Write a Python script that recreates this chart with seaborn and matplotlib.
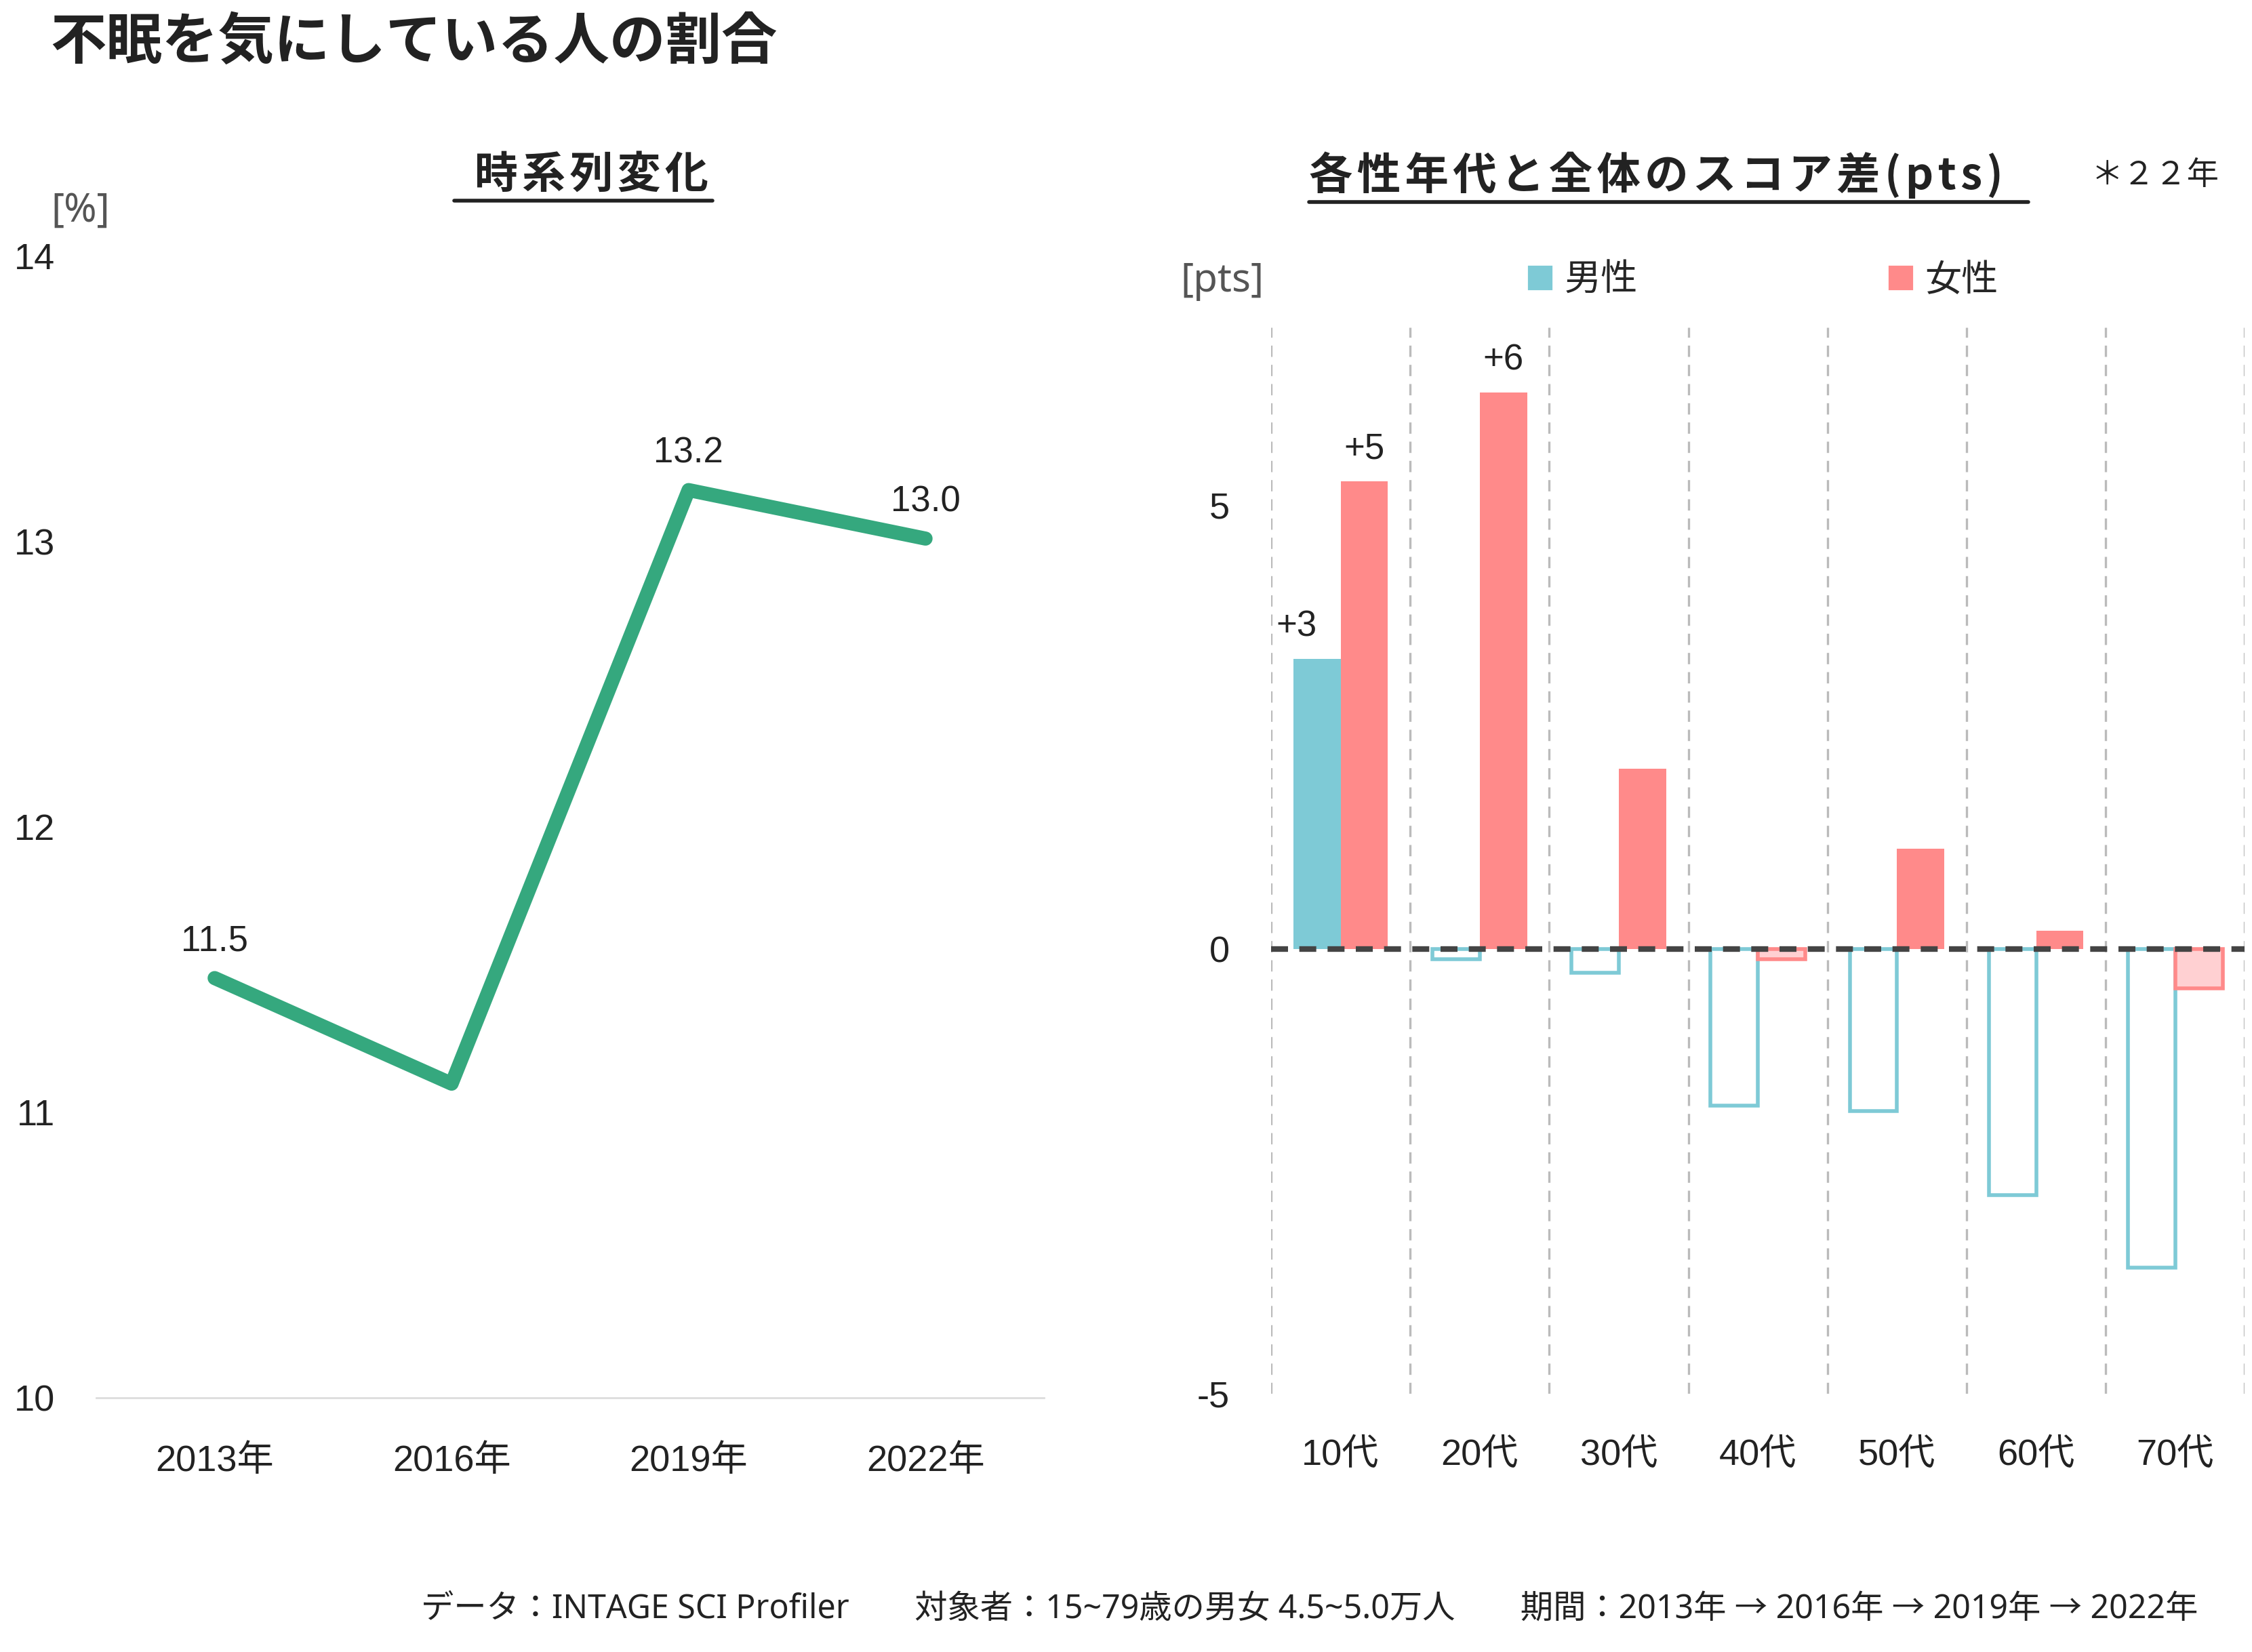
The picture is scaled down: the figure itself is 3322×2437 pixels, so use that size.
import pandas as pd
import matplotlib.pyplot as plt
import seaborn as sns
from matplotlib.patches import Patch
from matplotlib.lines import Line2D

# data
years = ["2013年", "2016年", "2019年", "2022年"]
rate = [11.47, 11.1, 13.18, 13.01]
rate_labels = ["11.5", "", "13.2", "13.0"]

ages = ["10代", "20代", "30代", "40代", "50代", "60代", "70代"]
sexes = ["男性", "女性"]
male_diff = [3.27, -0.11, -0.26, -1.76, -1.82, -2.77, -3.58]
female_diff = [5.27, 6.27, 2.03, -0.11, 1.13, 0.21, -0.44]

GREEN = "#35A87E"
CYAN = "#7ECAD6"
SALMON = "#FF8A8A"
PINK = "#FFD0D2"
TXT = "#222222"
JP = ["Noto Sans CJK JP", "DejaVu Sans"]
LAT = ["Noto Sans", "Noto Sans CJK JP"]

sns.set_theme(style="white")
plt.rcParams["font.family"] = ["Liberation Sans", "Noto Sans CJK JP", "DejaVu Sans"]
plt.rcParams["axes.unicode_minus"] = False

fig = plt.figure(figsize=(16.61, 12.185), dpi=200)
ax1 = fig.add_axes([0.0427, 0.154, 0.4209, 0.691])
ax2 = fig.add_axes([0.5644, 0.1565, 0.4324, 0.6452])

# 1. time series
df_rate = pd.DataFrame({"year": years, "rate": rate})
sns.lineplot(data=df_rate, x="year", y="rate", color=GREEN, lw=7.5, sort=False, ax=ax1,
             solid_capstyle="round", solid_joinstyle="round")
for i, (v, t) in enumerate(zip(rate, rate_labels)):
    if t:
        ax1.annotate(t, (i, v), xytext=(0, 19.5), textcoords="offset points",
                     ha="center", va="center", fontsize=19, color=TXT)
ax1.set_xlim(-0.5, 3.5)
ax1.set_ylim(10, 14)
ax1.set_yticks([10, 11, 12, 13, 14])
ax1.set_xlabel("")
ax1.set_ylabel("")
for s in ["top", "right", "left"]:
    ax1.spines[s].set_visible(False)
ax1.spines["bottom"].set_color("#DDDDDD")
ax1.spines["bottom"].set_linewidth(1)
ax1.tick_params(axis="both", length=0, labelsize=19.5, colors=TXT)
ax1.tick_params(axis="y", pad=22)
ax1.tick_params(axis="x", pad=25)

# 2. gap by sex and age
df_diff = pd.DataFrame({
    "age": ages * 2,
    "sex": [sexes[0]] * len(ages) + [sexes[1]] * len(ages),
    "diff": male_diff + female_diff,
})
sns.barplot(data=df_diff, x="age", y="diff", hue="sex", palette=[CYAN, SALMON],
             width=0.68, saturation=1, legend=False, ax=ax2, zorder=3)

styles = [(CYAN, "white", "right"), (SALMON, PINK, "center")]
for cont, (col, neg_fill, ha) in zip(ax2.containers, styles):
    for bar in cont:
        h = bar.get_height()
        if h < 0:
            bar.set_facecolor(neg_fill)
            bar.set_edgecolor(col)
            bar.set_linewidth(2)
        else:
            bar.set_edgecolor("none")
        if h >= 3:
            ax2.annotate(f"+{h:.0f}", (bar.get_x() + bar.get_width() / 2, h),
                         xytext=(0, 17), textcoords="offset points",
                         ha=ha, va="center", fontsize=19, color=TXT)

for k in range(len(ages) + 1):
    ax2.axvline(k - 0.5, color="#BBBBBB", lw=1.2, ls=(0, (5, 3.5)), zorder=1)
ax2.axhline(0, color="#444444", lw=3, ls=(0, (3, 2)), zorder=5)

ax2.set_xlim(-0.5, len(ages) - 0.5)
ax2.set_ylim(-5, 7)
ax2.set_yticks([-5, 0, 5])
ax2.set_xlabel("")
ax2.set_ylabel("")
for s in ax2.spines.values():
    s.set_visible(False)
ax2.tick_params(axis="both", length=0, labelsize=19.5, colors=TXT)
ax2.tick_params(axis="y", pad=22)
ax2.tick_params(axis="x", pad=24)

ax2.legend(handles=[Patch(facecolor=CYAN, label=sexes[0]), Patch(facecolor=SALMON, label=sexes[1])],
           loc="center left", bbox_to_anchor=(1063 / 1568, 1 - 195 / 1150),
           bbox_transform=fig.transFigure, ncol=2, frameon=False,
           handlelength=0.72, handleheight=0.72, handletextpad=0.3,
           columnspacing=6.8, borderpad=0, borderaxespad=0,
           prop={"family": JP, "size": 19.5})

# texts
hair = "\u200a"
fig.text(0.0223, 0.974, "不眠を気にしている人の割合", ha="left", va="center",
         fontsize=29.7, fontweight="bold", color=TXT, family=JP)
t1 = fig.text(0.2625, 0.894, hair.join("時系列変化"), ha="center", va="center",
              fontsize=23, fontweight="bold", color=TXT, family=JP)
t2 = fig.text(0.7355, 0.894, hair.join("各性年代と全体のスコア差(pts)"), ha="center", va="center",
              fontsize=23.2, fontweight="bold", color=TXT, family=JP)
fig.text(0.957, 0.894, "＊２２年", ha="center", va="center", fontsize=17, color=TXT, family=JP)
fig.text(0.0357, 0.8722, "[%]", ha="center", va="center", fontsize=21, color="#555555", family=LAT)
fig.text(0.5427, 0.830, "[pts]", ha="center", va="center", fontsize=21, color="#555555", family=LAT)
fig.text(0.976, 0.026,
         "データ：INTAGE SCI Profiler　　対象者：15~79歳の男女 4.5~5.0万人　　期間：2013年 → 2016年 → 2019年 → 2022年",
         ha="right", va="center", fontsize=17.4, color=TXT, family=LAT)

# underline the two panel titles (the reference pads them unevenly)
fig.canvas.draw()
inv = fig.transFigure.inverted()
for t, (pl, pr) in ((t1, (0.009, 0.002)), (t2, (0.0, 0.011))):
    bb = t.get_window_extent()
    (x0, y0), (x1, _) = inv.transform([(bb.x0, bb.y0), (bb.x1, bb.y1)])
    fig.add_artist(Line2D([x0 - pl, x1 + pr], [y0 - 0.002, y0 - 0.002],
                          color=TXT, lw=2, transform=fig.transFigure))

fig.savefig("out.png", dpi=200, facecolor="white")
